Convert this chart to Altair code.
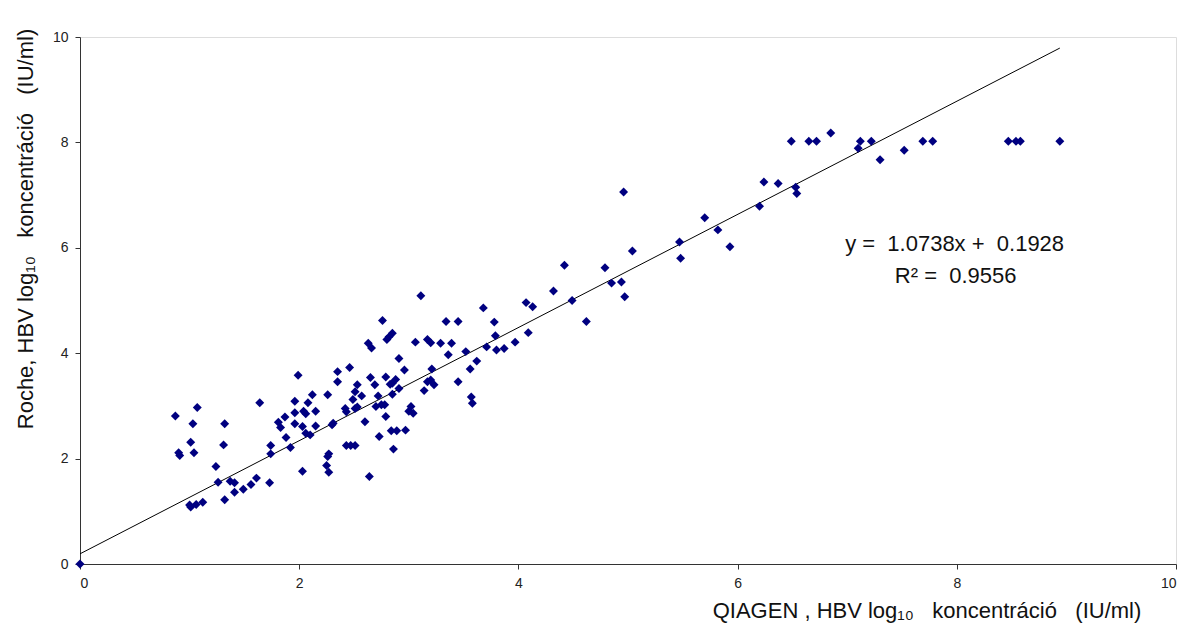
import altair as alt
import pandas as pd

qiagen = [0.00, 0.87, 1.07, 1.03, 1.01, 0.90, 0.91, 1.04, 1.32, 1.31, 1.24, 1.26, 1.37, 1.41,
          1.32, 1.41, 1.49, 1.56, 1.61, 1.73, 1.64, 1.74, 1.74, 1.81, 1.83, 1.87, 1.88, 1.92,
          1.99, 1.96, 1.96, 1.96, 2.03, 2.04, 2.06, 2.08, 2.12, 2.15, 2.15, 2.06, 2.10, 2.03,
          1.00, 1.06, 1.12, 1.01,
          3.11, 3.68, 4.07, 4.13, 3.34, 3.45, 3.78, 2.76, 2.63, 2.66, 2.82, 2.85, 2.80, 3.06,
          3.17, 3.20, 3.29, 3.39, 3.36, 3.52, 3.79, 3.71, 3.80, 3.87, 3.97, 4.09, 3.62, 3.56,
          3.45, 3.57, 3.58, 3.21, 3.14, 3.17, 3.20, 3.23, 2.91, 2.96, 2.79, 2.88, 2.85, 2.83,
          2.91, 2.85, 2.65, 2.69, 2.72, 2.70, 2.75, 2.78, 2.79, 2.60, 2.46, 2.35, 2.35, 2.53,
          2.51, 2.57, 2.49, 2.53, 2.51, 2.42, 2.43, 2.26, 2.31, 2.30, 2.73, 2.84, 2.89, 2.97,
          3.02, 3.00, 3.04, 2.86, 2.43, 2.47, 2.51, 2.27, 2.26, 2.25, 2.27, 2.64,
          4.96, 6.24, 6.37, 6.20, 5.70, 5.82, 5.93, 5.47, 5.48, 5.04, 4.42, 4.79, 4.85, 4.94,
          4.97, 4.49, 4.32, 4.62,
          6.53, 6.54, 6.49, 6.65, 6.72, 6.85, 7.12, 7.10, 7.22, 7.30, 7.52, 7.69, 7.78, 8.47,
          8.54, 8.58, 8.94]

roche = [0.00, 2.81, 2.97, 2.66, 2.31, 2.11, 2.06, 2.11, 2.66, 2.26, 1.85, 1.55, 1.57, 1.54,
         1.22, 1.36, 1.42, 1.51, 1.63, 1.54, 3.06, 2.25, 2.09, 2.69, 2.59, 2.79, 2.40, 2.21,
         3.58, 3.09, 2.87, 2.66, 2.61, 2.90, 2.85, 3.06, 3.21, 2.90, 2.62, 2.48, 2.45, 1.76,
         1.12, 1.13, 1.17, 1.08,
         5.09, 4.86, 4.96, 4.88, 4.60, 4.60, 4.59, 4.62, 4.19, 4.10, 4.31, 4.38, 4.26, 4.21,
         4.26, 4.20, 4.19, 4.19, 3.97, 4.03, 4.33, 4.12, 4.06, 4.09, 4.21, 4.39, 3.85, 3.70,
         3.46, 3.17, 3.05, 3.70, 3.29, 3.46, 3.49, 3.40, 3.90, 3.68, 3.55, 3.50, 3.43, 3.41,
         3.33, 3.22, 3.54, 3.40, 3.19, 2.99, 3.02, 3.02, 2.80, 2.70, 3.73, 3.65, 3.46, 3.40,
         3.27, 3.19, 3.12, 2.98, 2.95, 2.95, 2.89, 3.21, 2.67, 2.64, 2.42, 2.53, 2.53, 2.54,
         2.99, 2.90, 2.86, 2.18, 2.25, 2.25, 2.25, 2.09, 2.04, 1.87, 1.74, 1.66,
         7.06, 7.25, 7.22, 6.79, 6.57, 6.34, 6.02, 6.11, 5.80, 5.94, 5.67, 5.62, 5.33, 5.35,
         5.07, 5.00, 5.18, 4.60,
         7.15, 7.03, 8.02, 8.02, 8.02, 8.18, 8.02, 7.89, 8.02, 7.67, 7.85, 8.02, 8.02, 8.02,
         8.02, 8.02, 8.02]

# trend line end points (y = 1.0738x + 0.1928)
trend_x = [0.0, 8.94]
trend_y = [0.1928, 9.79]

NB = "\u00a0"
label_text = [f"y ={NB}{NB}1.0738x +{NB}{NB}0.1928", f"R² ={NB}{NB}0.9556"]
label_x = [7.98, 7.99]
label_y = [6.08, 5.47]

x_ticks = [0, 2, 4, 6, 8, 10]
y_ticks = [0, 2, 4, 6, 8, 10]

x_title = f"QIAGEN , HBV log₁₀{NB}{NB}{NB}koncentráció{NB}{NB}{NB}(IU/ml)"
y_title = f"Roche, HBV log₁₀{NB}{NB}{NB}koncentráció{NB}{NB}{NB}(IU/ml)"

FONT = "Liberation Sans"

pts = pd.DataFrame({"x": qiagen, "y": roche})
trend = pd.DataFrame({"x": trend_x, "y": trend_y})
labels = pd.DataFrame({"x": label_x, "y": label_y, "t": label_text})

xscale = alt.Scale(domain=[0, 10], nice=False, zero=False)
yscale = alt.Scale(domain=[0, 10], nice=False, zero=False)

xaxis = alt.Axis(
    values=x_ticks, format="d", grid=False, domainColor="#333333", tickColor="#333333",
    tickSize=5, labelFont=FONT, labelFontSize=14, labelColor="#222222", labelPadding=7,
    title=None,
)
yaxis = alt.Axis(
    values=y_ticks, format="d", grid=False, domainColor="#333333", tickColor="#333333",
    tickSize=5, labelFont=FONT, labelFontSize=14, labelColor="#222222", labelPadding=7,
    title=None,
)

line = alt.Chart(trend).mark_line(color="#000000", strokeWidth=1).encode(
    x=alt.X("x:Q", scale=xscale, axis=xaxis),
    y=alt.Y("y:Q", scale=yscale, axis=yaxis),
)

points = alt.Chart(pts).mark_point(
    shape="diamond", filled=True, size=80, color="#000080", opacity=1
).encode(
    x=alt.X("x:Q", scale=xscale),
    y=alt.Y("y:Q", scale=yscale),
)

text = alt.Chart(labels).mark_text(
    font=FONT, fontSize=22, color="#111111", align="center", baseline="middle"
).encode(
    x=alt.X("x:Q", scale=xscale),
    y=alt.Y("y:Q", scale=yscale),
    text="t:N",
)

xtitle = alt.Chart(pd.DataFrame({"t": [x_title]})).mark_text(
    font=FONT, fontSize=22, color="#111111", align="center", baseline="alphabetic"
).encode(x=alt.value(847), y=alt.value(581), text="t:N")

ytitle = alt.Chart(pd.DataFrame({"t": [y_title]})).mark_text(
    font=FONT, fontSize=22, color="#111111", align="center", baseline="alphabetic",
    angle=270
).encode(x=alt.value(-47), y=alt.value(192), text="t:N")

chart = alt.layer(line, points, text, xtitle, ytitle).properties(
    width=1096, height=527,
    autosize=alt.AutoSizeParams(type="none"),
    padding={"left": 72, "top": 29, "right": 6, "bottom": 64},
).configure_view(stroke=None).configure(background="white")

chart.save("out.html", embed_options={"renderer": "svg", "actions": False})
